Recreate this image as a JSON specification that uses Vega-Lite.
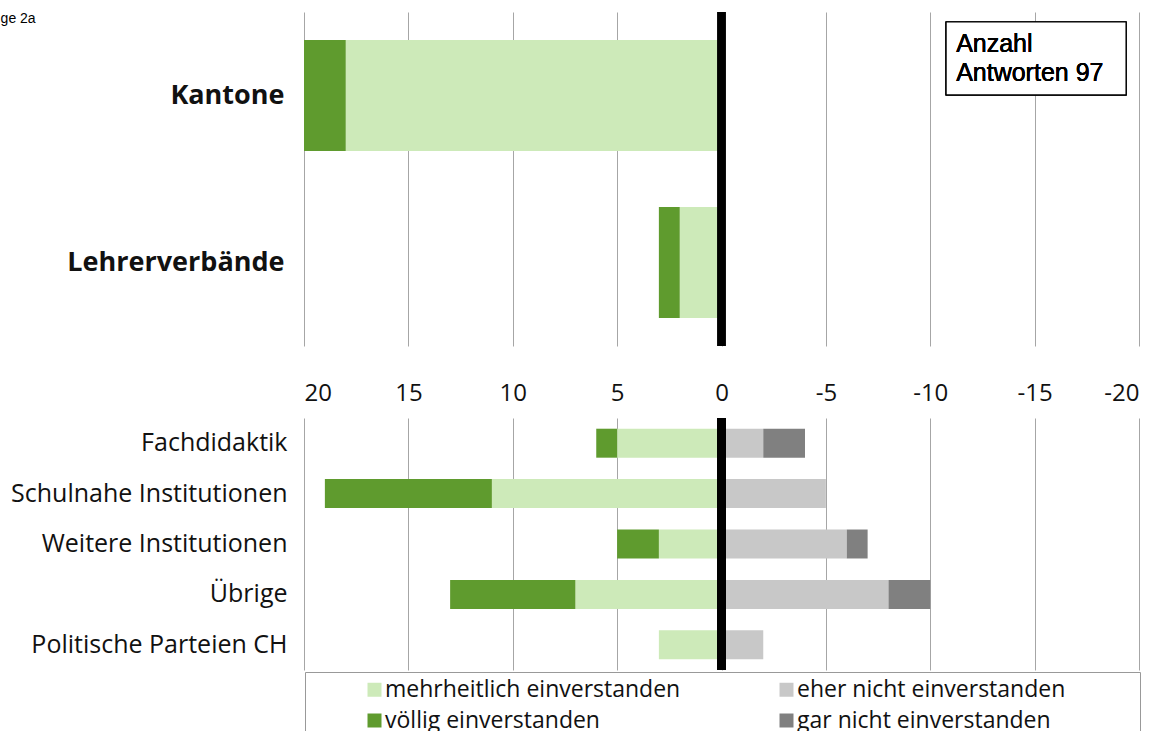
{
  "$schema": "https://vega.github.io/schema/vega-lite/v6.json",
  "background": "white",
  "padding": {"left": 0, "top": 8, "right": 5, "bottom": 0},
  "bounds": "flush",
  "spacing": 72,
  "title": {"text": "ge 2a", "anchor": "start", "frame": "bounds", "fontSize": 14, "font": "Liberation Sans", "fontWeight": "normal", "color": "#000", "offset": -18, "dx": -10},
  "config": {
    "view": {"stroke": null},
    "font": "Open Sans",
    "axis": {"labelColor": "#111", "ticks": false, "domain": false, "title": null}
  },
  "datasets": {
    "oben": [
      {"Gruppe": "Kantone", "Antwort": "mehrheitlich einverstanden", "Anzahl": 18},
      {"Gruppe": "Kantone", "Antwort": "völlig einverstanden", "Anzahl": 2},
      {"Gruppe": "Lehrerverbände", "Antwort": "mehrheitlich einverstanden", "Anzahl": 2},
      {"Gruppe": "Lehrerverbände", "Antwort": "völlig einverstanden", "Anzahl": 1}
    ],
    "unten": [
      {"Gruppe": "Fachdidaktik", "Antwort": "mehrheitlich einverstanden", "Anzahl": 5},
      {"Gruppe": "Fachdidaktik", "Antwort": "völlig einverstanden", "Anzahl": 1},
      {"Gruppe": "Fachdidaktik", "Antwort": "eher nicht einverstanden", "Anzahl": -2},
      {"Gruppe": "Fachdidaktik", "Antwort": "gar nicht einverstanden", "Anzahl": -2},
      {"Gruppe": "Schulnahe Institutionen", "Antwort": "mehrheitlich einverstanden", "Anzahl": 11},
      {"Gruppe": "Schulnahe Institutionen", "Antwort": "völlig einverstanden", "Anzahl": 8},
      {"Gruppe": "Schulnahe Institutionen", "Antwort": "eher nicht einverstanden", "Anzahl": -5},
      {"Gruppe": "Weitere Institutionen", "Antwort": "mehrheitlich einverstanden", "Anzahl": 3},
      {"Gruppe": "Weitere Institutionen", "Antwort": "völlig einverstanden", "Anzahl": 2},
      {"Gruppe": "Weitere Institutionen", "Antwort": "eher nicht einverstanden", "Anzahl": -6},
      {"Gruppe": "Weitere Institutionen", "Antwort": "gar nicht einverstanden", "Anzahl": -1},
      {"Gruppe": "Übrige", "Antwort": "mehrheitlich einverstanden", "Anzahl": 7},
      {"Gruppe": "Übrige", "Antwort": "völlig einverstanden", "Anzahl": 6},
      {"Gruppe": "Übrige", "Antwort": "eher nicht einverstanden", "Anzahl": -8},
      {"Gruppe": "Übrige", "Antwort": "gar nicht einverstanden", "Anzahl": -2},
      {"Gruppe": "Politische Parteien CH", "Antwort": "mehrheitlich einverstanden", "Anzahl": 3},
      {"Gruppe": "Politische Parteien CH", "Antwort": "eher nicht einverstanden", "Anzahl": -2}
    ]
  },
  "vconcat": [
    {
      "width": 835,
      "height": 334,
      "data": {"name": "oben"},
      "layer": [
        {
          "mark": {"type": "bar"},
          "encoding": {
            "y": {"field": "Gruppe", "type": "nominal", "sort": null,
              "scale": {"paddingInner": 0.335, "paddingOuter": 0.1675},
              "axis": {"labelFontSize": 27, "labelFontWeight": "bold", "labelPadding": 20, "labelLimit": 400}},
            "x": {"field": "Anzahl", "type": "quantitative",
              "scale": {"domain": [-20, 20], "reverse": true, "nice": false},
              "axis": {"values": [-20, -15, -10, -5, 0, 5, 10, 15, 20], "labelExpr": "'' + datum.value", "grid": true, "gridColor": "#a6a6a6", "gridWidth": 1, "labelFontSize": 24, "labelPadding": 35}},
            "color": {"field": "Antwort", "type": "nominal",
              "sort": ["mehrheitlich einverstanden", "völlig einverstanden", "eher nicht einverstanden", "gar nicht einverstanden"],
              "scale": {"domain": ["mehrheitlich einverstanden", "völlig einverstanden", "eher nicht einverstanden", "gar nicht einverstanden"], "range": ["#cdeab9", "#5f9b2e", "#c8c8c8", "#808080"]},
              "legend": {"orient": "none", "legendX": 1, "legendY": 660, "columns": 2, "columnPadding": 42, "rowPadding": 7, "title": " ", "titleOrient": "right", "titlePadding": 69, "padding": 6, "strokeColor": "#999", "fillColor": "white", "symbolType": "square", "symbolSize": 196, "symbolStrokeWidth": 0, "symbolOffset": 52, "labelOffset": -1, "labelFontSize": 23, "labelColor": "#111", "labelLimit": 500}}
          }
        },
        {"mark": {"type": "rule", "color": "black", "strokeWidth": 8}, "encoding": {"x": {"datum": 0}}},
        {"mark": {"type": "rect", "fill": "white", "stroke": "#000", "strokeWidth": 1.2},
          "encoding": {"x": {"datum": -10.76}, "x2": {"datum": -19.38},
            "y": {"datum": "Kantone", "bandPosition": -0.162}, "y2": {"datum": "Kantone", "bandPosition": 0.495}}},
        {"mark": {"type": "text", "align": "left", "baseline": "top", "font": "Liberation Sans", "fontSize": 25, "lineHeight": 29, "color": "#000", "text": ["Anzahl", "Antworten 97"]},
          "encoding": {"x": {"datum": -11.24}, "y": {"datum": "Kantone", "bandPosition": -0.072}}}
      ]
    },
    {
      "width": 835,
      "height": 252,
      "data": {"name": "unten"},
      "layer": [
        {
          "mark": {"type": "bar"},
          "encoding": {
            "y": {"field": "Gruppe", "type": "nominal", "sort": null,
              "scale": {"paddingInner": 0.425, "paddingOuter": 0.2125},
              "axis": {"labelFontSize": 25, "labelPadding": 17, "labelLimit": 400}},
            "x": {"field": "Anzahl", "type": "quantitative",
              "scale": {"domain": [-20, 20], "reverse": true, "nice": false},
              "axis": {"values": [-20, -15, -10, -5, 0, 5, 10, 15, 20], "labels": false, "grid": true, "gridColor": "#a6a6a6", "gridWidth": 1}},
            "color": {"field": "Antwort", "type": "nominal",
              "sort": ["mehrheitlich einverstanden", "völlig einverstanden", "eher nicht einverstanden", "gar nicht einverstanden"],
              "scale": {"domain": ["mehrheitlich einverstanden", "völlig einverstanden", "eher nicht einverstanden", "gar nicht einverstanden"], "range": ["#cdeab9", "#5f9b2e", "#c8c8c8", "#808080"]},
              "legend": {"orient": "none", "legendX": 1, "legendY": 660, "columns": 2, "columnPadding": 42, "rowPadding": 7, "title": " ", "titleOrient": "right", "titlePadding": 69, "padding": 6, "strokeColor": "#999", "fillColor": "white", "symbolType": "square", "symbolSize": 196, "symbolStrokeWidth": 0, "symbolOffset": 52, "labelOffset": -1, "labelFontSize": 23, "labelColor": "#111", "labelLimit": 500}}
          }
        },
        {"mark": {"type": "rule", "color": "black", "strokeWidth": 8}, "encoding": {"x": {"datum": 0}}}
      ]
    }
  ]
}
